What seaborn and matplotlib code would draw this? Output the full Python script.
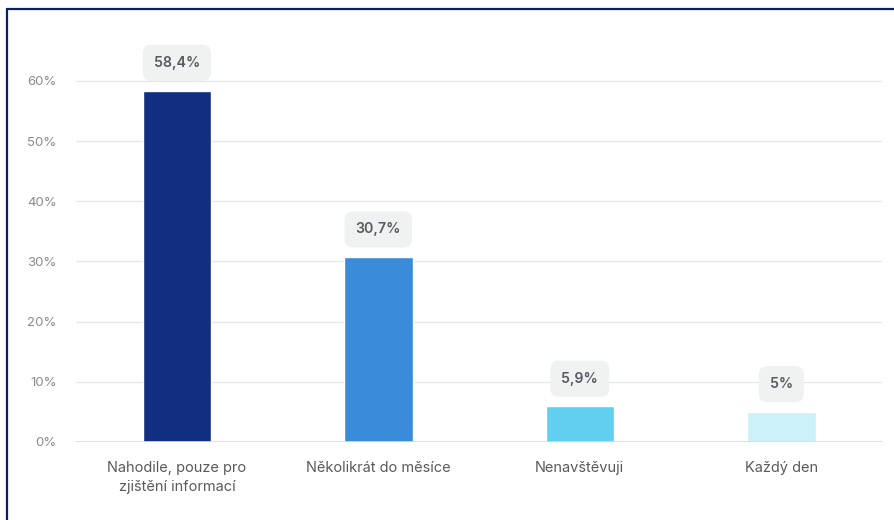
import matplotlib
matplotlib.use("Agg")
import matplotlib.pyplot as plt
import seaborn as sns
import pandas as pd
from matplotlib.lines import Line2D

# data
categories = ["Nahodile, pouze pro\nzjištění informací", "Několikrát do měsíce",
              "Nenavštěvuji", "Každý den"]
values = [58.4, 30.7, 5.9, 5.0]
value_labels = ["58,4%", "30,7%", "5,9%", "5%"]
bar_colors = ["#112e80", "#3a8bd8", "#60cff0", "#cdf1f9"]
y_ticks = [0, 10, 20, 30, 40, 50, 60]

df = pd.DataFrame({"kategorie": categories, "hodnota": values})

sns.set_style("white")
plt.rcParams['font.family'] = ['Inter', 'DejaVu Sans']

fig = plt.figure(figsize=(8.95, 5.2), dpi=100)
ax = fig.add_axes([0.085, 0.15, 0.9005, 0.81])

sns.barplot(data=df, x="kategorie", y="hodnota", hue="kategorie",
            palette=bar_colors, legend=False, width=0.34, ax=ax,
            saturation=1, zorder=3)

ax.set_xlim(-0.5, 3.5)
ax.set_ylim(0, 70)
ax.set_yticks(y_ticks)
ax.set_yticklabels([f"{t}%" for t in y_ticks])
ax.set_xlabel("")
ax.set_ylabel("")

# grid lines only up to 60 %
for t in y_ticks[1:]:
    ax.axhline(t, color="#e8e8e8", lw=1.0, zorder=0)
ax.axhline(0, color="#d3d8ea", lw=1.2, zorder=4)

for s in ax.spines.values():
    s.set_visible(False)
ax.tick_params(axis="y", length=0, pad=14, labelsize=9.5, labelcolor="#8a8a8a")
ax.tick_params(axis="x", length=0, pad=14, labelsize=10.5, labelcolor="#5a5a5a")
for lbl in ax.get_xticklabels():
    lbl.set_linespacing(1.45)

# value labels in rounded boxes
for i, (v, lab) in enumerate(zip(values, value_labels)):
    ax.annotate(lab, xy=(i, v), xytext=(0, 20), textcoords="offset points",
                ha="center", va="center", fontsize=10.2, fontweight="semibold",
                color="#555a60", zorder=5,
                bbox=dict(boxstyle="round,pad=0.78,rounding_size=0.6",
                          fc="#f0f1f1", ec="none"))

# dark frame (left and top edges)
frame_col = "#0b2060"
fig.add_artist(Line2D([0.0075, 0.0075], [0.0, 0.983], transform=fig.transFigure,
                      color=frame_col, lw=1.6))
fig.add_artist(Line2D([0.0075, 1.0], [0.983, 0.983], transform=fig.transFigure,
                      color=frame_col, lw=1.6))

fig.savefig("out.png", dpi=100, facecolor="white")
